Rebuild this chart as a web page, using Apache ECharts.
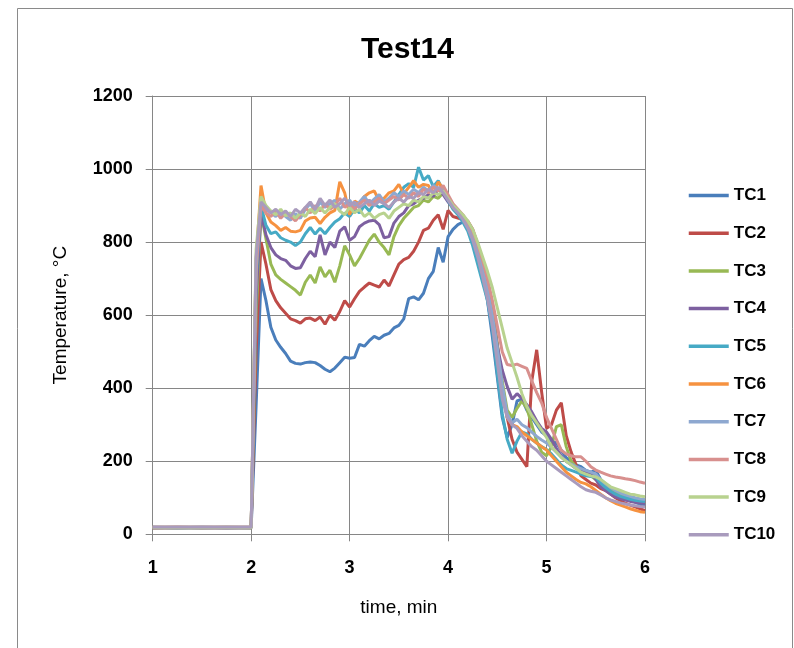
<!DOCTYPE html>
<html>
<head>
<meta charset="utf-8">
<script src="https://cdn.jsdelivr.net/npm/echarts@6/dist/echarts.min.js"></script>
<style>html,body{margin:0;padding:0;background:#fff;}#c{width:794px;height:648px;}</style>
</head>
<body>
<div id="c"></div>
<script>
var times = [1,1.25,1.5,1.75,2,
2.05,2.1,2.15,2.2,2.25,2.3,2.35,2.4,2.45,2.5,2.55,2.6,2.65,2.7,2.75,2.8,2.85,2.9,2.95,3,
3.05,3.1,3.15,3.2,3.25,3.3,3.35,3.4,3.45,3.5,3.55,3.6,3.65,3.7,3.75,3.8,3.85,3.9,3.95,4,
4.05,4.1,4.15,4.2,4.25,4.3,4.35,4.4,4.45,4.5,4.55,4.6,4.65,4.7,4.75,4.8,4.85,4.9,4.95,5,
5.05,5.1,5.15,5.2,5.25,5.3,5.35,5.4,5.45,5.5,5.55,5.6,5.65,5.7,5.75,5.8,5.85,5.9,5.95,6];

var TC1 = [18,18,19,18,18,
350,700,640,567,532,512,495,474,468,466,470,472,470,462,452,445,455,470,485,482,
484,520,515,530,542,535,545,550,565,572,590,645,650,642,660,700,720,785,745,815,
835,848,855,845,815,770,710,640,540,430,320,265,300,365,370,340,320,300,280,270,
255,250,230,210,200,190,185,175,170,175,150,135,120,110,105,100,95,88,82,78];
var TC2 = [18,19,18,18,18,
500,800,740,670,640,620,605,590,585,578,590,592,585,595,575,600,586,610,640,622,
645,665,677,688,682,677,696,680,710,740,752,758,775,800,832,838,860,875,835,887,
870,866,862,858,835,795,745,690,620,520,410,320,260,225,205,185,420,505,390,290,
300,340,360,270,225,190,160,150,140,135,125,120,110,100,92,85,80,75,70,65];
var TC3 = [18,18,18,19,18,
600,880,810,740,710,698,688,678,668,655,690,710,688,732,705,723,690,735,790,765,
735,755,780,805,822,800,785,765,815,845,865,880,895,900,915,910,925,920,935,915,
895,885,870,850,825,785,735,680,610,520,420,340,320,345,365,345,300,255,225,215,
240,295,300,240,200,185,175,170,160,150,140,130,122,115,110,106,102,98,96,94];
var TC4 = [18,18,18,18,19,
650,880,820,785,765,755,750,735,728,730,755,775,760,820,765,800,785,830,842,805,
815,842,852,858,860,848,812,815,852,870,880,900,905,915,920,930,925,945,930,910,
895,882,865,845,815,775,725,670,600,515,450,405,370,385,372,355,335,310,290,280,
260,235,215,200,190,180,175,172,168,150,130,120,110,102,98,94,90,88,86,85];
var TC5 = [19,18,18,18,18,
700,900,846,823,828,812,805,800,791,800,823,840,822,838,823,840,855,864,880,870,
890,880,900,885,905,895,900,890,910,930,950,960,950,1005,970,982,952,968,940,914,
890,875,855,830,790,740,690,640,560,440,330,260,222,255,280,275,260,250,240,232,
220,205,190,180,175,170,165,160,158,157,140,128,118,110,104,100,96,93,91,90];
var TC6 = [18,18,18,18,18,
750,955,880,855,845,832,840,830,828,832,858,866,868,851,868,880,887,965,935,875,
912,905,925,935,940,914,920,935,940,958,932,950,968,950,958,955,932,965,945,920,
895,882,865,842,810,770,720,665,595,500,400,320,300,295,280,270,260,250,240,231,
215,200,185,170,160,150,142,138,130,120,110,100,92,85,80,75,70,66,62,60];
var TC7 = [18,18,18,18,18,
750,920,890,880,870,885,870,860,878,865,890,905,885,910,895,905,915,890,905,915,
895,910,925,905,918,930,910,920,935,925,940,930,945,935,950,940,955,945,950,925,
900,885,868,845,815,775,725,670,600,510,410,330,305,315,300,292,280,268,258,250,
238,225,212,200,192,185,180,175,170,165,150,138,128,120,113,108,104,100,97,95];
var TC8 = [20,20,20,20,20,
720,900,880,870,885,865,880,870,858,875,895,880,900,885,905,890,900,920,895,905,
890,905,915,900,910,920,905,915,925,915,930,920,935,925,945,935,950,940,955,930,
905,890,875,855,830,795,750,700,640,570,500,465,462,466,460,454,420,388,360,320,
290,260,230,220,215,212,212,200,185,176,170,165,160,157,155,152,150,147,143,140];
var TC9 = [19,19,19,19,19,
780,925,900,885,875,890,872,880,865,880,870,890,878,895,880,895,905,885,875,895,
880,890,870,880,865,875,880,865,885,895,905,900,915,910,925,920,935,930,940,920,
900,888,875,858,835,800,760,720,675,620,565,510,470,430,385,350,325,305,285,265,
240,225,210,200,190,180,170,165,160,157,150,140,130,125,120,115,110,108,105,103];
var TC10 = [20,20,20,20,20,
760,910,895,880,890,875,885,870,890,880,895,910,890,920,900,915,895,905,920,900,
910,895,905,915,900,912,905,895,910,920,910,925,920,935,930,945,935,950,935,915,
895,880,862,838,805,760,705,645,570,470,370,320,300,290,270,255,240,230,215,200,
190,180,170,160,150,140,130,122,118,115,108,100,94,90,86,83,80,78,76,75];

var seriesNames = ['TC1','TC2','TC3','TC4','TC5','TC6','TC7','TC8','TC9','TC10'];
var seriesValues = [TC1,TC2,TC3,TC4,TC5,TC6,TC7,TC8,TC9,TC10];
var colors = ['#4A7EBB','#BE4B48','#98B954','#7D60A0','#46AAC5','#F69240','#8EA8D0','#D8908E','#B8D28F','#A99BBD'];
var xTicks = [1,2,3,4,5,6];
var yTicks = [0,200,400,600,800,1000,1200];

var FONT = 'Liberation Sans, Arial, sans-serif';
var chart = echarts.init(document.getElementById('c'), null, {renderer:'canvas'});
var series = seriesNames.map(function(n, i){
  return {
    name: n, type: 'line', symbol: 'none', showSymbol: false,
    data: times.map(function(t, k){ return [t, seriesValues[i][k]]; }),
    lineStyle: {width: 3, color: colors[i]},
    itemStyle: {color: colors[i]},
    z: 2 + i
  };
});
chart.setOption({
  animation: false,
  backgroundColor: '#fff',
  color: colors,
  graphic: [{type:'rect', shape:{x:17.5,y:8.5,width:775,height:660}, style:{fill:'none', stroke:'#8a8a8a', lineWidth:1}, z:-1}],
  title: {text: 'Test14', left: 356, top: 30, textStyle:{fontFamily: FONT, fontWeight:'bold', fontSize: 30, color:'#000'}},
  legend: {
    orient: 'vertical', left: 682, top: 182, itemWidth: 40, itemHeight: 16, itemGap: 20.7,
    itemStyle: {opacity: 0},
    lineStyle: {width: 3.5},
    textStyle: {fontFamily: FONT, fontWeight: 'bold', fontSize: 17, color: '#000', lineHeight: 16},
    data: seriesNames
  },
  grid: {left: 152.7, right: 149, top: 96, bottom: 113.7, containLabel: false},
  xAxis: {
    type: 'value', min: xTicks[0], max: xTicks[xTicks.length-1], interval: 1,
    name: 'time, min', nameLocation: 'middle', nameGap: 64,
    nameTextStyle: {fontFamily: FONT, fontSize: 19, color: '#000'},
    axisLine: {lineStyle: {color: '#868686', width: 1}},
    axisTick: {show: true, length: 7, lineStyle: {color: '#868686'}},
    axisLabel: {fontFamily: FONT, fontWeight: 'bold', fontSize: 18, color: '#000', margin: 25},
    splitLine: {show: true, lineStyle: {color: '#868686', width: 1}}
  },
  yAxis: {
    type: 'value', min: yTicks[0], max: yTicks[yTicks.length-1], interval: 200,
    name: 'Temperature, °C', nameLocation: 'middle', nameGap: 82, nameRotate: 90,
    nameTextStyle: {fontFamily: FONT, fontSize: 19, color: '#000'},
    axisLine: {show: true, lineStyle: {color: '#868686', width: 1}},
    axisTick: {show: true, length: 7, lineStyle: {color: '#868686'}},
    axisLabel: {fontFamily: FONT, fontWeight: 'bold', fontSize: 18, color: '#000', margin: 20,
      formatter: function(v){ return String(v); }},
    splitLine: {show: true, lineStyle: {color: '#868686', width: 1}}
  },
  series: series
});
</script>
</body>
</html>
